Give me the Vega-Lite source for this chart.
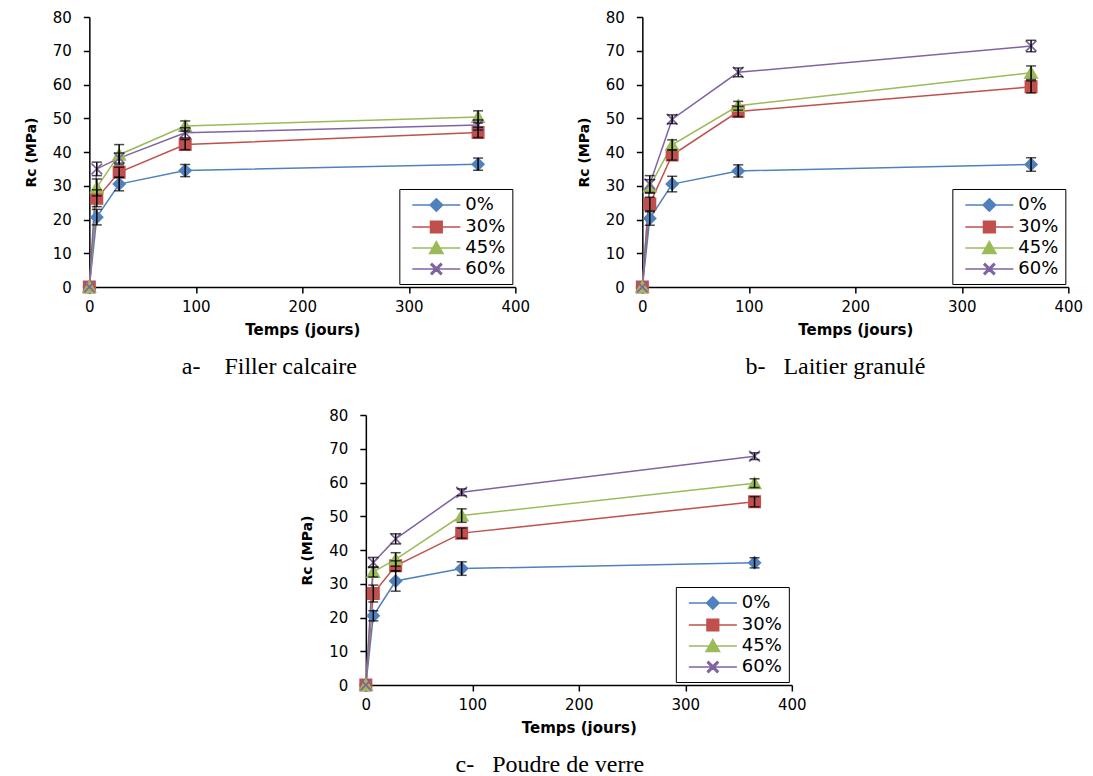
{
  "$schema": "https://vega.github.io/schema/vega-lite/v6.json",
  "padding": {"left": 24, "top": 10, "right": 5, "bottom": 0},
  "config": {
    "view": {"stroke": null},
    "font": "DejaVu Sans",
    "axis": {"grid": false, "domainColor": "black", "tickColor": "black", "labelColor": "black", "labelFontSize": 15, "titleFontSize": 15, "titleFontWeight": "bold", "titleColor": "black", "labelFont": "DejaVu Sans", "titleFont": "DejaVu Sans", "domainWidth": 1.5, "tickWidth": 1.5, "tickSize": 6, "labelFlush": false},
    "axisY": {"labelPadding": 12, "titlePadding": 14, "titleFontSize": 14},
    "axisX": {"labelPadding": 6, "titlePadding": 8},
    "legend": {"orient": "bottom-right", "offset": 3, "strokeColor": "black", "fillColor": "white", "padding": 6, "labelFontSize": 18, "labelFont": "DejaVu Sans", "labelColor": "black", "symbolSize": 324, "symbolStrokeWidth": 1.5, "symbolOffset": 21, "labelOffset": 19},
    "title": {"font": "Liberation Serif", "fontSize": 24, "fontWeight": "normal", "color": "black", "orient": "bottom", "offset": 18}
  },
  "datasets": {
    "d": [
      {"p": "a", "s": "0%", "t": 0, "rc": 0, "lo": 0, "hi": 0},
      {"p": "a", "s": "0%", "t": 7, "rc": 20.7, "lo": 18.4, "hi": 23.0},
      {"p": "a", "s": "0%", "t": 28, "rc": 30.5, "lo": 28.5, "hi": 32.5},
      {"p": "a", "s": "0%", "t": 90, "rc": 34.5, "lo": 32.7, "hi": 36.3},
      {"p": "a", "s": "0%", "t": 365, "rc": 36.4, "lo": 34.6, "hi": 38.2},
      {"p": "a", "s": "30%", "t": 0, "rc": 0, "lo": 0, "hi": 0},
      {"p": "a", "s": "30%", "t": 7, "rc": 26.3, "lo": 23.8, "hi": 28.8},
      {"p": "a", "s": "30%", "t": 28, "rc": 34.0, "lo": 32.5, "hi": 35.5},
      {"p": "a", "s": "30%", "t": 90, "rc": 42.2, "lo": 40.7, "hi": 43.7},
      {"p": "a", "s": "30%", "t": 365, "rc": 45.8, "lo": 44.3, "hi": 47.3},
      {"p": "a", "s": "45%", "t": 0, "rc": 0, "lo": 0, "hi": 0},
      {"p": "a", "s": "45%", "t": 7, "rc": 29.5, "lo": 27.0, "hi": 32.0},
      {"p": "a", "s": "45%", "t": 28, "rc": 39.2, "lo": 36.2, "hi": 42.2},
      {"p": "a", "s": "45%", "t": 90, "rc": 47.7, "lo": 46.2, "hi": 49.2},
      {"p": "a", "s": "45%", "t": 365, "rc": 50.4, "lo": 48.6, "hi": 52.2},
      {"p": "a", "s": "60%", "t": 0, "rc": 0, "lo": 0, "hi": 0},
      {"p": "a", "s": "60%", "t": 7, "rc": 35.0, "lo": 33.0, "hi": 37.0},
      {"p": "a", "s": "60%", "t": 28, "rc": 38.2, "lo": 36.7, "hi": 39.7},
      {"p": "a", "s": "60%", "t": 90, "rc": 45.7, "lo": 44.2, "hi": 47.2},
      {"p": "a", "s": "60%", "t": 365, "rc": 48.0, "lo": 46.5, "hi": 49.5},
      {"p": "b", "s": "0%", "t": 0, "rc": 0, "lo": 0, "hi": 0},
      {"p": "b", "s": "0%", "t": 7, "rc": 20.3, "lo": 18.3, "hi": 22.3},
      {"p": "b", "s": "0%", "t": 28, "rc": 30.5, "lo": 28.2, "hi": 32.8},
      {"p": "b", "s": "0%", "t": 90, "rc": 34.4, "lo": 32.6, "hi": 36.2},
      {"p": "b", "s": "0%", "t": 365, "rc": 36.3, "lo": 34.3, "hi": 38.3},
      {"p": "b", "s": "30%", "t": 0, "rc": 0, "lo": 0, "hi": 0},
      {"p": "b", "s": "30%", "t": 7, "rc": 24.6, "lo": 22.6, "hi": 26.6},
      {"p": "b", "s": "30%", "t": 28, "rc": 39.1, "lo": 37.6, "hi": 40.6},
      {"p": "b", "s": "30%", "t": 90, "rc": 52.0, "lo": 50.5, "hi": 53.5},
      {"p": "b", "s": "30%", "t": 365, "rc": 59.3, "lo": 57.5, "hi": 61.1},
      {"p": "b", "s": "45%", "t": 0, "rc": 0, "lo": 0, "hi": 0},
      {"p": "b", "s": "45%", "t": 7, "rc": 29.8, "lo": 27.8, "hi": 31.8},
      {"p": "b", "s": "45%", "t": 28, "rc": 42.1, "lo": 40.6, "hi": 43.6},
      {"p": "b", "s": "45%", "t": 90, "rc": 53.7, "lo": 52.4, "hi": 55.0},
      {"p": "b", "s": "45%", "t": 365, "rc": 63.5, "lo": 61.5, "hi": 65.5},
      {"p": "b", "s": "60%", "t": 0, "rc": 0, "lo": 0, "hi": 0},
      {"p": "b", "s": "60%", "t": 7, "rc": 30.5, "lo": 28.0, "hi": 33.0},
      {"p": "b", "s": "60%", "t": 28, "rc": 49.7, "lo": 48.4, "hi": 51.0},
      {"p": "b", "s": "60%", "t": 90, "rc": 63.6, "lo": 62.3, "hi": 64.9},
      {"p": "b", "s": "60%", "t": 365, "rc": 71.4, "lo": 69.7, "hi": 73.1},
      {"p": "c", "s": "0%", "t": 0, "rc": 0, "lo": 0, "hi": 0},
      {"p": "c", "s": "0%", "t": 7, "rc": 20.5, "lo": 19.0, "hi": 22.0},
      {"p": "c", "s": "0%", "t": 28, "rc": 30.8, "lo": 27.8, "hi": 33.8},
      {"p": "c", "s": "0%", "t": 90, "rc": 34.5, "lo": 32.5, "hi": 36.5},
      {"p": "c", "s": "0%", "t": 365, "rc": 36.2, "lo": 34.7, "hi": 37.7},
      {"p": "c", "s": "30%", "t": 0, "rc": 0, "lo": 0, "hi": 0},
      {"p": "c", "s": "30%", "t": 7, "rc": 27.1, "lo": 24.6, "hi": 29.6},
      {"p": "c", "s": "30%", "t": 28, "rc": 35.3, "lo": 33.8, "hi": 36.8},
      {"p": "c", "s": "30%", "t": 90, "rc": 45.0, "lo": 43.5, "hi": 46.5},
      {"p": "c", "s": "30%", "t": 365, "rc": 54.3, "lo": 52.8, "hi": 55.8},
      {"p": "c", "s": "45%", "t": 0, "rc": 0, "lo": 0, "hi": 0},
      {"p": "c", "s": "45%", "t": 7, "rc": 33.5, "lo": 32.0, "hi": 35.0},
      {"p": "c", "s": "45%", "t": 28, "rc": 37.2, "lo": 35.2, "hi": 39.2},
      {"p": "c", "s": "45%", "t": 90, "rc": 50.2, "lo": 48.2, "hi": 52.2},
      {"p": "c", "s": "45%", "t": 365, "rc": 59.8, "lo": 58.5, "hi": 61.1},
      {"p": "c", "s": "60%", "t": 0, "rc": 0, "lo": 0, "hi": 0},
      {"p": "c", "s": "60%", "t": 7, "rc": 36.3, "lo": 34.8, "hi": 37.8},
      {"p": "c", "s": "60%", "t": 28, "rc": 43.3, "lo": 41.8, "hi": 44.8},
      {"p": "c", "s": "60%", "t": 90, "rc": 57.1, "lo": 56.1, "hi": 58.1},
      {"p": "c", "s": "60%", "t": 365, "rc": 67.8, "lo": 66.8, "hi": 68.8}
    ]
  },
  "data": {"name": "d"},
  "center": true,
  "spacing": 29,
  "resolve": {"scale": {"color": "independent", "stroke": "independent", "shape": "independent"}, "legend": {"color": "independent", "stroke": "independent", "shape": "independent"}},
  "vconcat": [
    {
      "spacing": 46,
      "resolve": {"scale": {"color": "independent", "stroke": "independent", "shape": "independent"}, "legend": {"color": "independent", "stroke": "independent", "shape": "independent"}},
      "hconcat": [
        {
          "width": 426, "height": 270,
          "title": {"text": "a-\u00a0\u00a0\u00a0\u00a0Filler calcaire", "dx": -33},
          "transform": [{"filter": "datum.p == 'a'"}],
          "encoding": {
            "x": {"field": "t", "type": "quantitative", "title": "Temps (jours)", "scale": {"domain": [0, 400], "nice": false, "padding": 0}, "axis": {"values": [0, 100, 200, 300, 400]}},
            "y": {"field": "rc", "type": "quantitative", "title": "Rc (MPa)", "scale": {"domain": [0, 80], "nice": false}, "axis": {"values": [0, 10, 20, 30, 40, 50, 60, 70, 80]}}
          },
          "layer": [
            {"mark": {"type": "line", "strokeWidth": 1.5}, "encoding": {"color": {"field": "s", "type": "nominal", "scale": {"domain": ["0%", "30%", "45%", "60%"], "range": ["#4F81BD", "#C0504D", "#9BBB59", "#8064A2"]}, "legend": {"title": null}}}},
            {"mark": {"type": "point", "filled": true, "size": 400, "strokeWidth": 0, "opacity": 1},
             "encoding": {
               "color": {"field": "s", "type": "nominal", "scale": {"domain": ["0%", "30%", "45%", "60%"], "range": ["#4F81BD", "#C0504D", "#9BBB59", "#8064A2"]}, "legend": {"title": null}},
               "stroke": {"field": "s", "type": "nominal", "scale": {"domain": ["0%", "30%", "45%", "60%"], "range": ["#4F81BD", "#C0504D", "#9BBB59", "#8064A2"]}, "legend": {"title": null}},
               "shape": {"field": "s", "type": "nominal", "scale": {"domain": ["0%", "30%", "45%", "60%"], "range": ["M-2.67,0H2.67M0,-0.7L0.7,0L0,0.7L-0.7,0Z", "M-2.67,0H2.67M-0.65,-0.65H0.65V0.65H-0.65Z", "M-2.67,0H2.67M0,-0.72L0.75,0.6H-0.75Z", "M-2.67,0H2.67M-0.6,-0.48L-0.48,-0.6L0.6,0.48L0.48,0.6ZM0.48,-0.6L0.6,-0.48L-0.48,0.6L-0.6,0.48Z"]}, "legend": {"title": null}}
             }},
            {"transform": [{"filter": "datum.t > 0"}], "mark": {"type": "errorbar", "color": "black", "thickness": 1.5, "ticks": {"size": 10, "thickness": 1.5}},
             "encoding": {"y": {"field": "lo", "type": "quantitative", "title": "Rc (MPa)"}, "y2": {"field": "hi"}}}
          ]
        },
        {
          "width": 426, "height": 270,
          "title": {"text": "b-\u00a0\u00a0\u00a0Laitier granulé", "dx": -20},
          "transform": [{"filter": "datum.p == 'b'"}],
          "encoding": {
            "x": {"field": "t", "type": "quantitative", "title": "Temps (jours)", "scale": {"domain": [0, 400], "nice": false, "padding": 0}, "axis": {"values": [0, 100, 200, 300, 400]}},
            "y": {"field": "rc", "type": "quantitative", "title": "Rc (MPa)", "scale": {"domain": [0, 80], "nice": false}, "axis": {"values": [0, 10, 20, 30, 40, 50, 60, 70, 80]}}
          },
          "layer": [
            {"mark": {"type": "line", "strokeWidth": 1.5}, "encoding": {"color": {"field": "s", "type": "nominal", "scale": {"domain": ["0%", "30%", "45%", "60%"], "range": ["#4F81BD", "#C0504D", "#9BBB59", "#8064A2"]}, "legend": {"title": null}}}},
            {"mark": {"type": "point", "filled": true, "size": 400, "strokeWidth": 0, "opacity": 1},
             "encoding": {
               "color": {"field": "s", "type": "nominal", "scale": {"domain": ["0%", "30%", "45%", "60%"], "range": ["#4F81BD", "#C0504D", "#9BBB59", "#8064A2"]}, "legend": {"title": null}},
               "stroke": {"field": "s", "type": "nominal", "scale": {"domain": ["0%", "30%", "45%", "60%"], "range": ["#4F81BD", "#C0504D", "#9BBB59", "#8064A2"]}, "legend": {"title": null}},
               "shape": {"field": "s", "type": "nominal", "scale": {"domain": ["0%", "30%", "45%", "60%"], "range": ["M-2.67,0H2.67M0,-0.7L0.7,0L0,0.7L-0.7,0Z", "M-2.67,0H2.67M-0.65,-0.65H0.65V0.65H-0.65Z", "M-2.67,0H2.67M0,-0.72L0.75,0.6H-0.75Z", "M-2.67,0H2.67M-0.6,-0.48L-0.48,-0.6L0.6,0.48L0.48,0.6ZM0.48,-0.6L0.6,-0.48L-0.48,0.6L-0.6,0.48Z"]}, "legend": {"title": null}}
             }},
            {"transform": [{"filter": "datum.t > 0"}], "mark": {"type": "errorbar", "color": "black", "thickness": 1.5, "ticks": {"size": 10, "thickness": 1.5}},
             "encoding": {"y": {"field": "lo", "type": "quantitative", "title": "Rc (MPa)"}, "y2": {"field": "hi"}}}
          ]
        }
      ]
    },
    {
      "width": 426, "height": 270,
      "title": {"text": "c-\u00a0\u00a0\u00a0Poudre de verre", "dx": -29},
      "transform": [{"filter": "datum.p == 'c'"}],
      "encoding": {
        "x": {"field": "t", "type": "quantitative", "title": "Temps (jours)", "scale": {"domain": [0, 400], "nice": false, "padding": 0}, "axis": {"values": [0, 100, 200, 300, 400]}},
        "y": {"field": "rc", "type": "quantitative", "title": "Rc (MPa)", "scale": {"domain": [0, 80], "nice": false}, "axis": {"values": [0, 10, 20, 30, 40, 50, 60, 70, 80]}}
      },
      "layer": [
        {"mark": {"type": "line", "strokeWidth": 1.5}, "encoding": {"color": {"field": "s", "type": "nominal", "scale": {"domain": ["0%", "30%", "45%", "60%"], "range": ["#4F81BD", "#C0504D", "#9BBB59", "#8064A2"]}, "legend": {"title": null}}}},
        {"mark": {"type": "point", "filled": true, "size": 400, "strokeWidth": 0, "opacity": 1},
         "encoding": {
           "color": {"field": "s", "type": "nominal", "scale": {"domain": ["0%", "30%", "45%", "60%"], "range": ["#4F81BD", "#C0504D", "#9BBB59", "#8064A2"]}, "legend": {"title": null}},
           "stroke": {"field": "s", "type": "nominal", "scale": {"domain": ["0%", "30%", "45%", "60%"], "range": ["#4F81BD", "#C0504D", "#9BBB59", "#8064A2"]}, "legend": {"title": null}},
           "shape": {"field": "s", "type": "nominal", "scale": {"domain": ["0%", "30%", "45%", "60%"], "range": ["M-2.67,0H2.67M0,-0.7L0.7,0L0,0.7L-0.7,0Z", "M-2.67,0H2.67M-0.65,-0.65H0.65V0.65H-0.65Z", "M-2.67,0H2.67M0,-0.72L0.75,0.6H-0.75Z", "M-2.67,0H2.67M-0.6,-0.48L-0.48,-0.6L0.6,0.48L0.48,0.6ZM0.48,-0.6L0.6,-0.48L-0.48,0.6L-0.6,0.48Z"]}, "legend": {"title": null}}
         }},
        {"transform": [{"filter": "datum.t > 0"}], "mark": {"type": "errorbar", "color": "black", "thickness": 1.5, "ticks": {"size": 10, "thickness": 1.5}},
         "encoding": {"y": {"field": "lo", "type": "quantitative", "title": "Rc (MPa)"}, "y2": {"field": "hi"}}}
      ]
    }
  ]
}
